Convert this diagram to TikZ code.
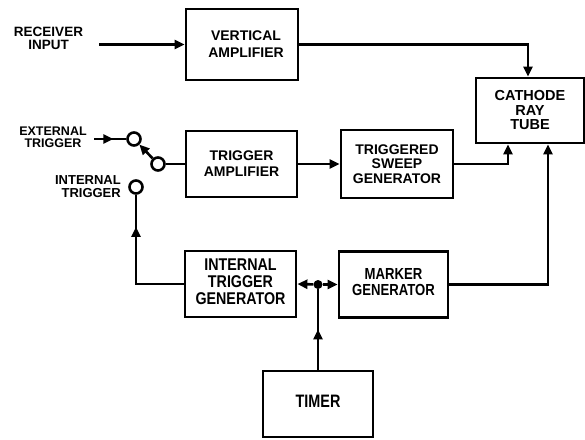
\documentclass[tikz,border=0pt]{standalone}
\usepackage{fontspec}
\usepackage{graphicx}
\setmainfont{Liberation Sans}
\usetikzlibrary{arrows.meta,decorations.markings}
\newcommand\cbox[2]{\scalebox{#1}[1]{\begin{tabular}{@{}c@{}}#2\end{tabular}}}
\begin{document}
\begin{tikzpicture}[x=1pt,y=-1pt,
  box/.style={draw, line width=2.8pt, inner sep=0pt, align=center},
  lbl/.style={inner sep=0pt, align=center},
  wire/.style={line width=2.6pt},
  arr/.style={wire, -{Triangle[length=10pt,width=9pt]}},
  midarr/.style={wire, postaction={decorate}, decoration={markings, mark=at position #1 with {\arrow{Triangle[length=10pt,width=9pt]}}}},
  port/.style={circle, draw, line width=2.6pt, minimum size=13pt, inner sep=0pt, fill=white},
]
\useasboundingbox (0,0) rectangle (585,439);

% boxes
\node[box, minimum width=112pt, minimum height=71pt, font=\bfseries\fontsize{14}{17}\selectfont] (va) at (242,44.5) {\hspace*{8pt}VERTICAL\\\hspace*{8pt}AMPLIFIER};
\node[box, minimum width=108pt, minimum height=65pt, font=\bfseries\fontsize{14.5}{14.5}\selectfont] (crt) at (530,110.5) {CATHODE\\RAY\\TUBE};
\node[box, minimum width=111pt, minimum height=66pt, font=\bfseries\fontsize{14}{16}\selectfont] (ta) at (241.5,164) {TRIGGER\\AMPLIFIER};
\node[box, minimum width=112pt, minimum height=68pt, font=\bfseries\fontsize{14}{14.5}\selectfont] (tsg) at (397,164) {TRIGGERED\\SWEEP\\GENERATOR};
\node[box, minimum width=111pt, minimum height=66pt, font=\bfseries\fontsize{17}{16}\selectfont] (itg) at (240.5,284) {\cbox{0.84}{INTERNAL\\TRIGGER\\GENERATOR}};
\node[box, minimum width=109pt, minimum height=66pt, font=\bfseries\fontsize{16}{15}\selectfont] (mg) at (393.5,284.5) {\cbox{0.82}{MARKER\\GENERATOR}};
\node[box, minimum width=110pt, minimum height=66pt, font=\bfseries\fontsize{18}{18}\selectfont] (timer) at (318,404) {\cbox{0.8}{TIMER}};

% labels
\node[lbl, font=\bfseries\fontsize{13.5}{13.5}\selectfont] (recv) at (48.5,38.5) {RECEIVER\\INPUT};
\node[lbl, font=\bfseries\fontsize{12.5}{12.5}\selectfont] (ext) at (53,137.5) {EXTERNAL\\TRIGGER};
\node[lbl, align=right, anchor=east, font=\bfseries\fontsize{13}{13}\selectfont] (intl) at (121,187) {INTERNAL\\TRIGGER};

% switch contacts
\node[port] (c1) at (134,139) {};
\node[port] (c2) at (158,164) {};
\node[port] (c3) at (136,187) {};
\node[circle, fill, inner sep=0pt, minimum size=9pt] (j) at (318,284.5) {};

\coordinate (rin) at (99,44.5);
\coordinate (ein) at (94,139);

% connectors
\draw[arr] (rin) -- (va.west);
\draw[midarr=0.6] (ein) -- (c1);
\draw[arr] (c2) -- (c1);
\draw[wire] (c2) -- (ta.west);
\draw[arr] (ta.east) -- (tsg.west);
\draw[arr] (va.east) -| ([xshift=-2pt]crt.north);
\draw[arr] (tsg.east) -| ([xshift=-22pt]crt.south);
\draw[arr] (mg.east) -| ([xshift=18pt]crt.south);
\draw[wire] (itg.west) -| (c3.south);
\draw[midarr=0.64] (c3 |- itg.west) -- (c3.south);
\draw[arr] (j) -- (itg.east);
\draw[arr] (j) -- (mg.west);
\draw[midarr=0.5] (timer.north) -- (j);
\end{tikzpicture}
\end{document}
